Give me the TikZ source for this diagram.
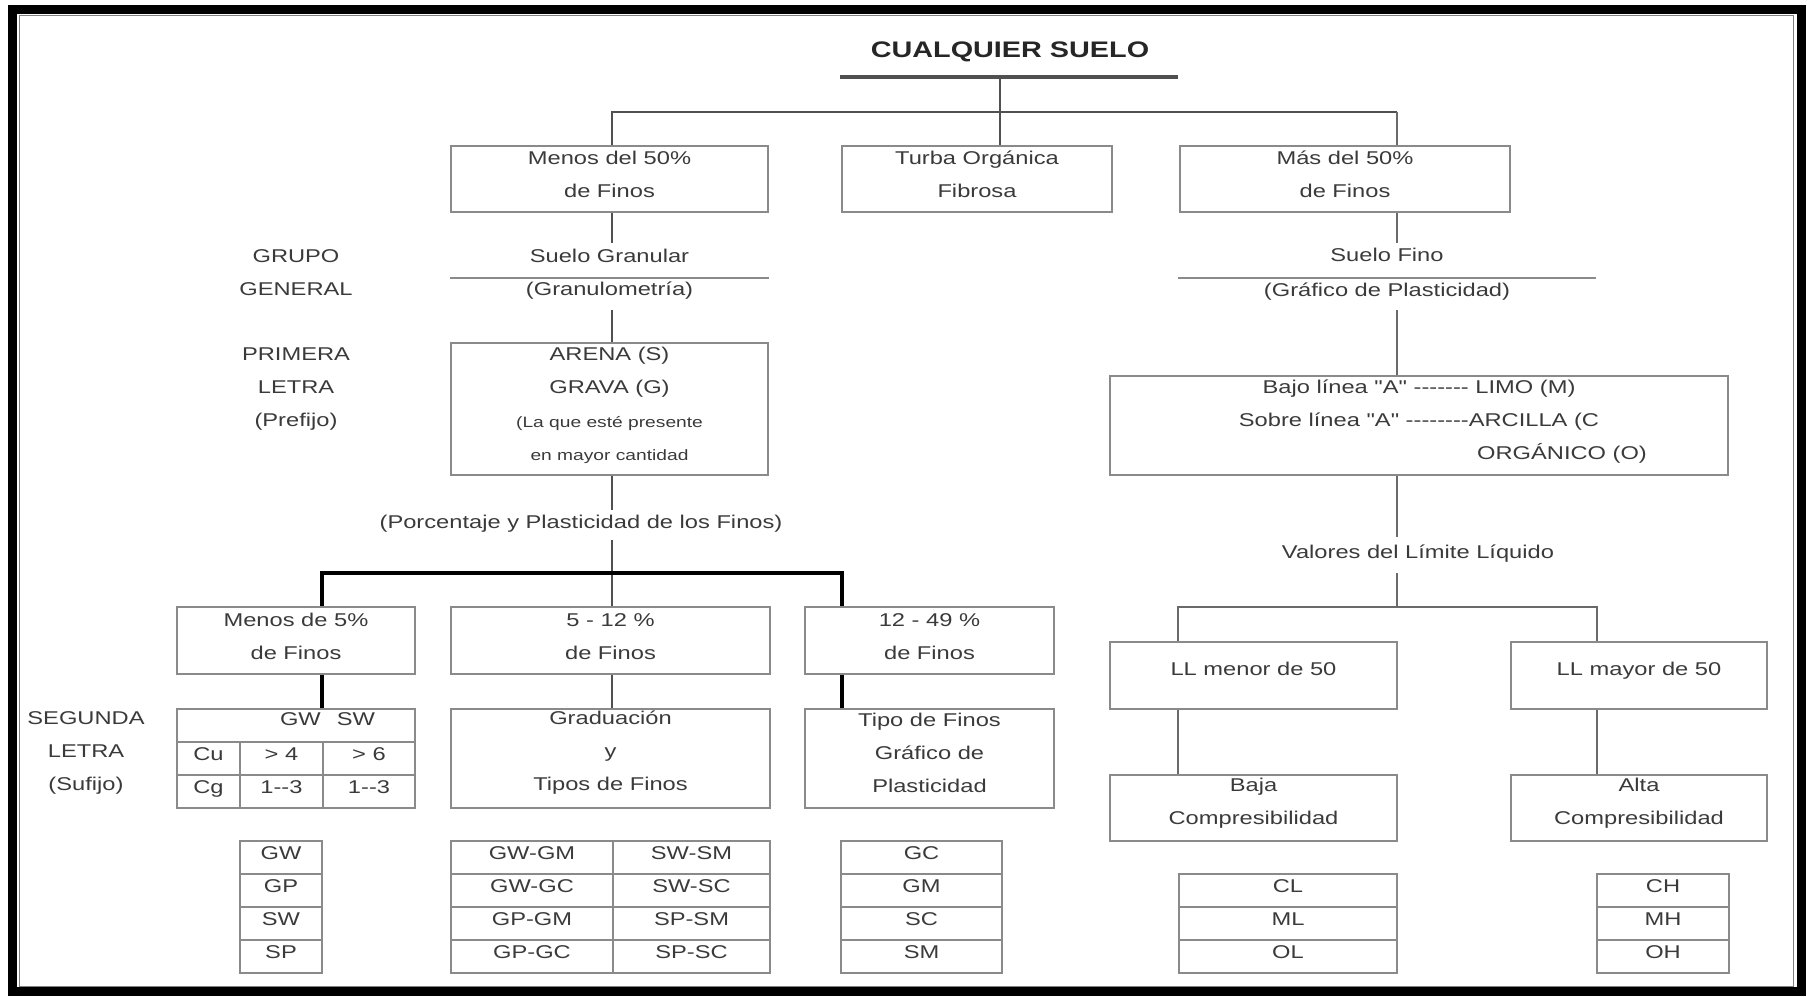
\documentclass[tikz,border=0pt]{standalone}
\usepackage{fontspec}
\setmainfont{Liberation Sans}[FakeStretch=1.28, Ligatures=TeXOff]
\usetikzlibrary{calc}
\definecolor{txt}{HTML}{3A3A3A}
\definecolor{bord}{HTML}{8A8A8A}
\definecolor{con}{HTML}{505050}
\definecolor{conr}{HTML}{6A6A6A}
\newcommand{\rdash}{\mbox{-}}
\begin{document}
\begin{tikzpicture}[x=1pt,y=-1pt,
  every node/.style={text=txt},
  nf/.style={font=\fontsize{18.5}{33}\selectfont},
  box/.style={draw=bord, line width=1.6pt, inner sep=0pt},
  lbl/.style={nf, inner sep=0pt, align=center},
  one/.style={nf, inner sep=0pt, text height=13pt, text depth=0pt},
  cell/.style={draw=bord, line width=1.4pt, inner sep=0pt, nf, text height=13pt, text depth=9pt, minimum height=33pt},
  conn/.style={draw=con, line width=2.2pt},
  connr/.style={draw=conr, line width=2.8pt},
  bus/.style={draw=black, line width=3.5pt},
  rule/.style={draw=bord, line width=1.4pt},
]
\useasboundingbox (0,0) rectangle (1807,996);
% frame
\coordinate (fa) at (12.5,9.5); \coordinate (fb) at (1801.5,991.5);
\draw[line width=9pt, black] (fa) rectangle (fb);
\coordinate (fc) at (19.5,15.5); \coordinate (fd) at (1793,986);
\draw[line width=1pt, gray] (fc) rectangle (fd);

% title
\node[font=\fontsize{22.5}{27}\selectfont\bfseries, text=black!85, inner sep=0pt] (T) at (1010,52) {CUALQUIER SUELO};
\coordinate (tl1) at (840,77); \coordinate (tl2) at (1178,77);
\draw[draw=con, line width=4pt] (tl1) -- (tl2);
\coordinate (j0) at (1000,77);
\coordinate (h1) at (612,112); \coordinate (h2) at (1397,112);

% first row boxes
\node[box, minimum width=317pt, minimum height=66pt] (A) at (609.5,179) {};
\node[box, minimum width=270pt, minimum height=66pt] (B) at (977,179) {};
\node[box, minimum width=330pt, minimum height=66pt] (C) at (1345,179) {};
\node[lbl] (At) at (609.5,174) {Menos del 50\%\\de Finos};
\node[lbl] (Bt) at (977,174) {Turba Orgánica\\Fibrosa};
\node[lbl] (Ct) at (1345,174) {Más del 50\%\\de Finos};

\draw[conn] (j0) -- (j0 |- B.north);
\draw[conn] (h1 |- A.north) -- (h1) -- (h2);
\draw[connr] (h2) -- (h2 |- C.north);

% left branch
\node[lbl] (grp) at (296,272.5) {GRUPO\\GENERAL};
\node[one] (sg) at (609.5,256) {Suelo Granular};
\node[one] (gr) at (609.5,289) {(Granulometría)};
\coordinate (l1) at (609.5,278);
\draw[rule] (A.west |- l1) -- (A.east |- l1);
\draw[conn, shorten >=6.5pt] (h1 |- A.south) -- (h1 |- sg.north);
\node[box, minimum width=317pt, minimum height=132pt] (D) at (609.5,409) {};
\node[lbl] (Dt) at (609.5,372) {ARENA (S)\\GRAVA (G)};
\node[lbl, font=\fontsize{15}{33}\selectfont] (Ds) at (609.5,440.5) {(La que esté presente\\en mayor cantidad};
\node[lbl] (pri) at (296,389) {PRIMERA\\LETRA\\(Prefijo)};
\draw[conn, shorten <=14.5pt] (h1 |- gr.south) -- (h1 |- D.north);
\node[one] (pc) at (581,522) {(Porcentaje y Plasticidad de los Finos)};
\draw[conn, shorten >=5.5pt] (h1 |- D.south) -- (h1 |- pc.north);

% second level boxes
\node[box, minimum width=238pt, minimum height=67pt] (E1) at (296,640.5) {};
\node[box, minimum width=319pt, minimum height=67pt] (E2) at (610.5,640.5) {};
\node[box, minimum width=249pt, minimum height=67pt] (E3) at (929.5,640.5) {};
\node[lbl] (E1t) at (296,636.5) {Menos de 5\%\\de Finos};
\node[lbl] (E2t) at (610.5,636.5) {5 - 12 \%\\de Finos};
\node[lbl] (E3t) at (929.5,636.5) {12 - 49 \%\\de Finos};
\draw[conn, shorten <=11.5pt] (h1 |- pc.south) -- (h1 |- E2.north);
\coordinate (b1) at (322,573); \coordinate (b3) at (842,573);
\draw[bus] (b1 |- E1.north) -- (b1) -- (b3) -- (b3 |- E3.north);

% suffix row
\node[lbl] (seg) at (86,752.7) {SEGUNDA\\LETRA\\(Sufijo)};
\node[cell, minimum width=238pt] (G1) at (296,725.5) {};
\node[one] (gwsw) at (327.5,719) {GW\hspace{16pt}SW};
\node[cell, minimum width=63pt] (cu) at (208.5,758.5) {Cu};
\node[cell, minimum width=83pt] (cu4) at (281.5,758.5) {> 4};
\node[cell, minimum width=92pt] (cu6) at (369,758.5) {> 6};
\node[cell, minimum width=63pt] (cg) at (208.5,791.5) {Cg};
\node[cell, minimum width=83pt] (cg1) at (281.5,791.5) {1\rdash\rdash3};
\node[cell, minimum width=92pt] (cg2) at (369,791.5) {1\rdash\rdash3};
\node[box, minimum width=319pt, minimum height=99pt] (G2) at (610.5,758.5) {};
\node[box, minimum width=249pt, minimum height=99pt] (G3) at (929.5,758.5) {};
\node[lbl] (G2t) at (610.5,752.7) {Graduación\\y\\Tipos de Finos};
\node[lbl] (G3t) at (929.5,752.7) {Tipo de Finos\\Gráfico de\\Plasticidad};
\draw[bus] (b1 |- E1.south) -- (b1 |- G1.north);
\draw[conn] (h1 |- E2.south) -- (h1 |- G2.north);
\draw[bus] (b3 |- E3.south) -- (b3 |- G3.north);

% result tables left
\foreach \t [count=\i] in {GW,GP,SW,SP}
  \node[cell, minimum width=82pt] (ta\i) at (281,824.5+33*\i) {\t};
\foreach \t [count=\i] in {GW-GM,GW-GC,GP-GM,GP-GC}
  \node[cell, minimum width=162pt] (tb\i) at (532,824.5+33*\i) {\t};
\foreach \t [count=\i] in {SW-SM,SW-SC,SP-SM,SP-SC}
  \node[cell, minimum width=157pt] (tc\i) at (691.5,824.5+33*\i) {\t};
\foreach \t [count=\i] in {GC,GM,SC,SM}
  \node[cell, minimum width=161pt] (td\i) at (921.5,824.5+33*\i) {\t};

% right branch
\node[one] (sf) at (1387,255) {Suelo Fino};
\node[one] (gp) at (1387,290) {(Gráfico de Plasticidad)};
\coordinate (l2a) at (1178,278); \coordinate (l2b) at (1596,278);
\draw[rule] (l2a) -- (l2b);
\draw[connr, shorten >=5.5pt] (h2 |- C.south) -- (h2 |- sf.north);
\node[box, minimum width=618pt, minimum height=99pt] (F) at (1419,425.5) {};
\node[lbl] (Ft) at (1419,405) {Bajo línea "A" \rdash\rdash\rdash\rdash\rdash\rdash\rdash{} LIMO (M)\\Sobre línea "A" \rdash\rdash\rdash\rdash\rdash\rdash\rdash\rdash ARCILLA (C};
\node[one] (Fo) at (1562,453) {ORGÁNICO (O)};
\draw[connr, shorten <=13.5pt] (h2 |- gp.south) -- (h2 |- F.north);
\node[one] (vl) at (1418,552) {Valores del Límite Líquido};
\draw[connr, shorten >=8.5pt] (h2 |- F.south) -- (h2 |- vl.north);
\coordinate (r0) at (1397,607);
\coordinate (r1) at (1178,607); \coordinate (r2) at (1597,607);
\draw[connr, shorten <=14.5pt] (h2 |- vl.south) -- (r0);
\node[box, minimum width=287pt, minimum height=67pt] (H1) at (1253.5,675.5) {};
\node[box, minimum width=256pt, minimum height=67pt] (H2) at (1639,675.5) {};
\node[one] (H1t) at (1253.5,669) {LL menor de 50};
\node[one] (H2t) at (1639,669) {LL mayor de 50};
\draw[connr] (r1 |- H1.north) -- (r1) -- (r2) -- (r2 |- H2.north);
\node[box, minimum width=287pt, minimum height=66pt] (I1) at (1253.5,808) {};
\node[box, minimum width=256pt, minimum height=66pt] (I2) at (1639,808) {};
\node[lbl] (I1t) at (1253.5,803.5) {Baja\\Compresibilidad};
\node[lbl] (I2t) at (1639,803.5) {Alta\\Compresibilidad};
\draw[connr] (r1 |- H1.south) -- (r1 |- I1.north);
\draw[connr] (r2 |- H2.south) -- (r2 |- I2.north);

% result tables right
\foreach \t [count=\i] in {CL,ML,OL}
  \node[cell, minimum width=218pt] (te\i) at (1288,857.5+33*\i) {\t};
\foreach \t [count=\i] in {CH,MH,OH}
  \node[cell, minimum width=132pt] (tf\i) at (1663,857.5+33*\i) {\t};
\end{tikzpicture}
\end{document}
